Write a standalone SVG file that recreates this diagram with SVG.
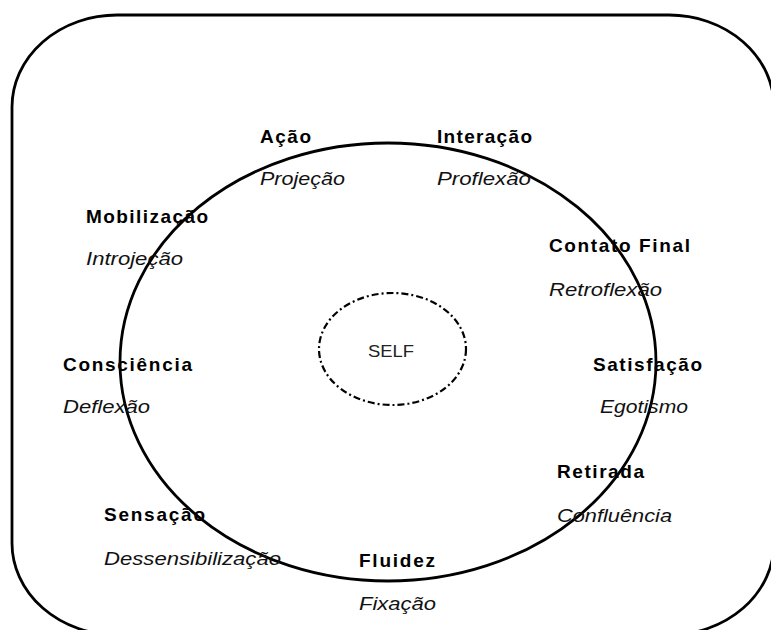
<svg xmlns="http://www.w3.org/2000/svg" width="771" height="630" viewBox="0 0 771 630">
<style>
.line{fill:none;stroke:#000;stroke-width:2.8}
.self{fill:none;stroke:#000;stroke-width:2.2;stroke-dasharray:7 3 2 3}
.b{font-family:"Liberation Sans",Arial,sans-serif;font-weight:bold;font-size:19px;fill:#000}
.i{font-family:"Liberation Sans",Arial,sans-serif;font-style:italic;font-size:18px;fill:#111}
.s{font-family:"Liberation Sans",Arial,sans-serif;font-size:17px;fill:#222}
</style>
<rect width="771" height="630" fill="#fff"/>
<g id="frame"><rect class="line" x="12" y="15" width="762" height="620" rx="105" ry="92"/></g>
<g id="cycle"><ellipse class="line" cx="388" cy="362" rx="268" ry="219"/></g>
<g id="self"><ellipse class="self" cx="392.5" cy="349" rx="73.5" ry="56"/>
<text class="s" x="391" y="357" text-anchor="middle" textLength="46" lengthAdjust="spacingAndGlyphs">SELF</text></g>
<g id="acao"><text class="b" x="260" y="143" textLength="51" lengthAdjust="spacing">Ação</text>
<text class="i" x="260" y="185" textLength="85" lengthAdjust="spacingAndGlyphs">Projeção</text></g>
<g id="interacao"><text class="b" x="437" y="143" textLength="95" lengthAdjust="spacing">Interação</text>
<text class="i" x="437" y="185" textLength="94" lengthAdjust="spacingAndGlyphs">Proflexão</text></g>
<g id="mobilizacao"><text class="b" x="86" y="223" textLength="122" lengthAdjust="spacing">Mobilização</text>
<text class="i" x="86" y="265" textLength="97" lengthAdjust="spacingAndGlyphs">Introjeção</text></g>
<g id="contato"><text class="b" x="549" y="252" textLength="141" lengthAdjust="spacing">Contato Final</text>
<text class="i" x="549" y="296" textLength="113" lengthAdjust="spacingAndGlyphs">Retroflexão</text></g>
<g id="consciencia"><text class="b" x="63" y="371" textLength="129" lengthAdjust="spacing">Consciência</text>
<text class="i" x="63" y="413" textLength="87" lengthAdjust="spacingAndGlyphs">Deflexão</text></g>
<g id="satisfacao"><text class="b" x="593" y="371" textLength="109" lengthAdjust="spacing">Satisfação</text>
<text class="i" x="600" y="413" textLength="88" lengthAdjust="spacingAndGlyphs">Egotismo</text></g>
<g id="retirada"><text class="b" x="557" y="478" textLength="87" lengthAdjust="spacing">Retirada</text>
<text class="i" x="557" y="522" textLength="115" lengthAdjust="spacingAndGlyphs">Confluência</text></g>
<g id="sensacao"><text class="b" x="104" y="521" textLength="101" lengthAdjust="spacing">Sensação</text>
<text class="i" x="104" y="565" textLength="177" lengthAdjust="spacingAndGlyphs">Dessensibilização</text></g>
<g id="fluidez"><text class="b" x="359" y="567" textLength="76" lengthAdjust="spacing">Fluidez</text>
<text class="i" x="359" y="610" textLength="77" lengthAdjust="spacingAndGlyphs">Fixação</text></g>
<g id="connectors"></g>
</svg>
